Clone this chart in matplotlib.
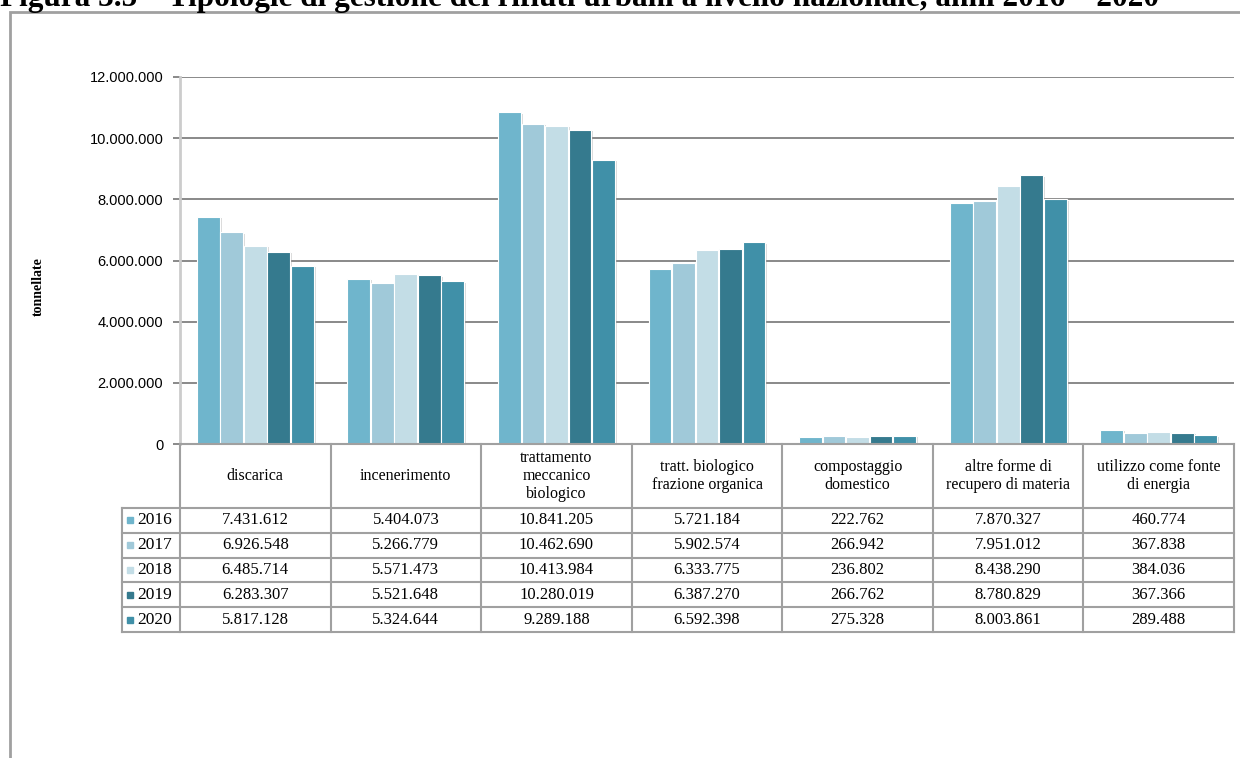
import matplotlib.pyplot as plt
import matplotlib.patheffects as pe
from matplotlib.patches import Rectangle
import numpy as np

# tonnellate per tipologia di gestione, anni 2016-2020
categories = ['discarica', 'incenerimento', 'trattamento\nmeccanico\nbiologico',
              'tratt. biologico\nfrazione organica', 'compostaggio\ndomestico',
              'altre forme di\nrecupero di materia', 'utilizzo come fonte\ndi energia']
years = ['2016', '2017', '2018', '2019', '2020']
t2016 = [7431612, 5404073, 10841205, 5721184, 222762, 7870327, 460774]
t2017 = [6926548, 5266779, 10462690, 5902574, 266942, 7951012, 367838]
t2018 = [6485714, 5571473, 10413984, 6333775, 236802, 8438290, 384036]
t2019 = [6283307, 5521648, 10280019, 6387270, 266762, 8780829, 367366]
t2020 = [5817128, 5324644, 9289188, 6592398, 275328, 8003861, 289488]
series = [t2016, t2017, t2018, t2019, t2020]
colors = ['#6fb5cc', '#a0c9d9', '#c3dde6', '#357a8e', '#4090a8']

W, H = 1240, 758
serif = 'Liberation Serif'
grey = '#a0a0a0'


def fmt(v):
    return f'{v:,.0f}'.replace(',', '.')


fig = plt.figure(figsize=(W / 100, H / 100), dpi=100)

fig.text(0.0, 1 - 6 / H,
         'Figura 3.5 \u2013 Tipologie di gestione dei rifiuti urbani a livello nazionale, anni 2016 \u2013 2020',
         family=serif, fontweight='bold', fontsize=22.5, va='baseline', ha='left')

# cornice esterna
fig.patches.append(Rectangle((10 / W, -0.1), 2, 1 - 12 / H + 0.1, transform=fig.transFigure,
                             fill=False, edgecolor=grey, lw=2))

ax = fig.add_axes([180 / W, 1 - 444 / H, 1054 / W, 367 / H])
x = np.arange(len(categories))
bw = 0.156
shadow = [pe.SimplePatchShadow(offset=(1.5, -1), shadow_rgbFace='0.6', alpha=0.35), pe.Normal()]
for i, (vals, c) in enumerate(zip(series, colors)):
    ax.bar(x + (i - 2) * bw, vals, width=bw * 0.97, color=c, edgecolor='white',
           linewidth=0.8, path_effects=shadow, zorder=3)

ax.set_xlim(-0.5, 6.5)
ax.set_ylim(0, 12000000)
ax.set_yticks(np.arange(0, 12000001, 2000000))
ax.set_yticklabels([fmt(v) for v in np.arange(0, 12000001, 2000000)],
                   family='Liberation Sans', fontsize=10.5)
ax.set_xticks([])
ax.tick_params(axis='y', length=5, width=1.3, color='#808080', pad=7)
ax.yaxis.grid(True, color='#808080', lw=1.3)
ax.set_axisbelow(True)
for s in ['top', 'right']:
    ax.spines[s].set_visible(False)
ax.spines['left'].set_color('#cccccc')
ax.spines['left'].set_linewidth(2)
ax.spines['bottom'].set_color('#808080')
ax.spines['bottom'].set_linewidth(1.3)

fig.text(38 / W, 1 - 287 / H, 'tonnellate', rotation=90, family=serif,
         fontweight='bold', fontsize=10, ha='center', va='center')

# tabella dati sotto il grafico
tab = fig.add_axes([180 / W, 1 - 632 / H, 1054 / W, 188 / H])
tab.set_xlim(-0.5, 6.5)
tab.set_ylim(188, 0)
tab.axis('off')
head_h, row_h = 64, 24.8
leg_left = -0.5 - 58 / 150.6

tab.plot([-0.5, 6.5], [0, 0], color=grey, lw=1.5, clip_on=False)
for r in range(len(years) + 1):
    y = head_h + r * row_h
    tab.plot([leg_left, 6.5], [y, y], color=grey, lw=1.5, clip_on=False)
for k in range(len(categories) + 1):
    tab.plot([-0.5 + k, -0.5 + k], [0, 188], color=grey, lw=1.5, clip_on=False)
tab.plot([leg_left, leg_left], [head_h, 188], color=grey, lw=1.5, clip_on=False)

for j, name in enumerate(categories):
    tab.text(j, head_h / 2, name, ha='center', va='center', family=serif,
             fontsize=11.5, linespacing=1.2)

for r, (yr, vals, c) in enumerate(zip(years, series, colors)):
    yc = head_h + (r + 0.5) * row_h
    tab.plot(-0.5 - 50 / 150.6, yc, marker='s', ms=4.5, color=c, clip_on=False)
    tab.text(-0.5 - 43 / 150.6, yc, yr, ha='left', va='center', family=serif, fontsize=12.5)
    for j, v in enumerate(vals):
        tab.text(j, yc, fmt(v), ha='center', va='center', family=serif, fontsize=12)

fig.savefig('out.png', dpi=100)
